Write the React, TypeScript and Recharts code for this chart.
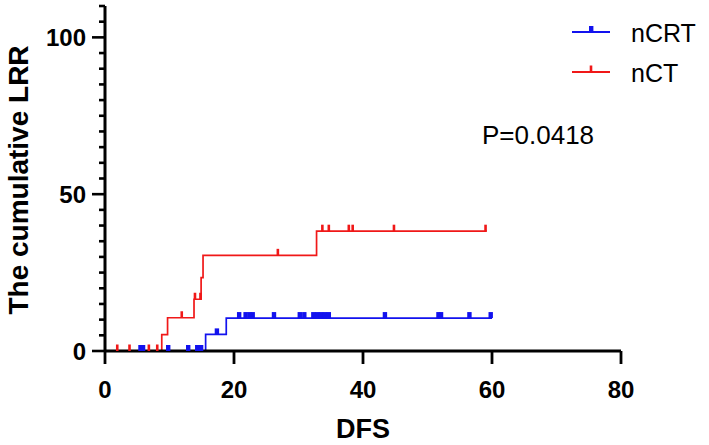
import React from "react";
import {
  ComposedChart,
  Line,
  Scatter,
  XAxis,
  YAxis,
  Customized,
} from "recharts";

// Kaplan-Meier style step curves
const nCRTTimes = [0, 15.6, 18.8, 60.0];
const nCRTValues = [0, 5.3, 10.5, 10.5];
const nCTTimes = [0, 8.8, 9.7, 13.8, 14.9, 15.2, 32.8, 59.2];
const nCTValues = [0, 5.2, 10.6, 16.5, 23.4, 30.5, 38.2, 38.2];

// censored observations (tick marks)
const nCRTCensored = [
  5.5, 5.9, 9.8, 12.9, 14.3, 14.9, 17.35, 20.8, 21.8, 22.4, 22.9, 26.2, 30.2,
  30.9, 32.3, 32.9, 33.5, 34.1, 34.7, 43.4, 51.7, 52.1, 56.5, 59.8,
];
const nCTCensored = [
  1.9, 3.8, 6.8, 8.1, 11.9, 13.95, 14.8, 26.8, 33.7, 34.7, 37.8, 38.4, 44.8,
  59.0,
];

const xTicks = [0, 20, 40, 60, 80];
const yTicks = [
  0, 5, 10, 15, 20, 25, 30, 35, 40, 45, 50, 55, 60, 65, 70, 75, 80, 85, 90, 95,
  100, 105, 110,
];

const BLUE = "#1212ee";
const RED = "#f01818";
const FONT = "'Liberation Sans', Arial, sans-serif";

const toSteps = (times: number[], values: number[]) =>
  times.map((t, i) => ({ t, v: values[i] }));

// level of the step curve at time t
const levelAt = (times: number[], values: number[], t: number) => {
  let v = values[0];
  times.forEach((tt, i) => {
    if (tt <= t) v = values[i];
  });
  return v;
};

const toCensor = (censored: number[], times: number[], values: number[]) =>
  censored.map((t) => ({ t, v: levelAt(times, values, t) }));

const blueSteps = toSteps(nCRTTimes, nCRTValues);
const redSteps = toSteps(nCTTimes, nCTValues);
const blueCensor = toCensor(nCRTCensored, nCRTTimes, nCRTValues);
const redCensor = toCensor(nCTCensored, nCTTimes, nCTValues);

const BlueMark = (props: any) => (
  <rect x={props.cx - 2.2} y={props.cy - 6} width={4.4} height={6} fill={BLUE} />
);
const RedMark = (props: any) => (
  <rect x={props.cx - 1.3} y={props.cy - 6.5} width={2.6} height={6.5} fill={RED} />
);

const YTick = (props: any) => {
  const { x, y, payload } = props;
  const major = payload.value % 50 === 0;
  return (
    <g>
      <line x1={x} x2={x - (major ? 13 : 6)} y1={y} y2={y} stroke="#000" strokeWidth={2.6} />
      {major && (
        <text
          x={x - 19}
          y={y + 8.5}
          textAnchor="end"
          fontFamily={FONT}
          fontWeight="bold"
          fontSize={24}
          fill="#000"
        >
          {payload.value}
        </text>
      )}
    </g>
  );
};

const XTick = (props: any) => {
  const { x, y, payload } = props;
  return (
    <g>
      <line x1={x} x2={x} y1={y} y2={y + 13} stroke="#000" strokeWidth={2.8} />
      <text
        x={x}
        y={y + 47}
        textAnchor="middle"
        fontFamily={FONT}
        fontWeight="bold"
        fontSize={24}
        fill="#000"
      >
        {payload.value}
      </text>
    </g>
  );
};

const Extras = () => (
  <g fontFamily={FONT}>
    <line x1={572} x2={610} y1={32} y2={32} stroke={BLUE} strokeWidth={1.8} />
    <rect x={589} y={26} width={4.4} height={6} fill={BLUE} />
    <text x={631} y={42} fontSize={25} fill="#000">nCRT</text>
    <line x1={572} x2={610} y1={72} y2={72} stroke={RED} strokeWidth={1.8} />
    <rect x={589.7} y={65.5} width={2.6} height={6.5} fill={RED} />
    <text x={631} y={82} fontSize={25} fill="#000">nCT</text>
    <text x={482} y={143.5} fontSize={26} fill="#000">P=0.0418</text>
    <text
      transform="translate(28,180) rotate(-90)"
      textAnchor="middle"
      fontSize={28}
      fontWeight="bold"
      fill="#000"
    >
      The cumulative LRR
    </text>
    <text x={363} y={438} textAnchor="middle" fontSize={27} fontWeight="bold" fill="#000">
      DFS
    </text>
  </g>
);

export default function App() {
  return (
    <div style={{ position: "absolute", left: 0, top: 0, background: "#fff" }}>
      <ComposedChart
        width={709}
        height={445}
        margin={{ top: 6, right: 88, bottom: 0, left: 0 }}
      >
        <XAxis
          dataKey="t"
          type="number"
          domain={[0, 80]}
          ticks={xTicks}
          interval={0}
          height={94}
          axisLine={{ stroke: "#000", strokeWidth: 3 }}
          tickLine={false}
          tickSize={0}
          tickMargin={0}
          tick={<XTick />}
          allowDataOverflow
        />
        <YAxis
          dataKey="v"
          type="number"
          domain={[0, 110]}
          ticks={yTicks}
          interval={0}
          width={105}
          axisLine={{ stroke: "#000", strokeWidth: 3 }}
          tickLine={false}
          tickSize={0}
          tickMargin={0}
          tick={<YTick />}
          allowDataOverflow
        />
        <Line
          data={redSteps}
          dataKey="v"
          type="stepAfter"
          stroke={RED}
          strokeWidth={1.7}
          dot={false}
          isAnimationActive={false}
        />
        <Scatter data={redCensor} dataKey="v" shape={<RedMark />} isAnimationActive={false} />
        <Line
          data={blueSteps}
          dataKey="v"
          type="stepAfter"
          stroke={BLUE}
          strokeWidth={1.7}
          dot={false}
          isAnimationActive={false}
        />
        <Scatter data={blueCensor} dataKey="v" shape={<BlueMark />} isAnimationActive={false} />
        <Customized component={<Extras />} />
      </ComposedChart>
    </div>
  );
}
